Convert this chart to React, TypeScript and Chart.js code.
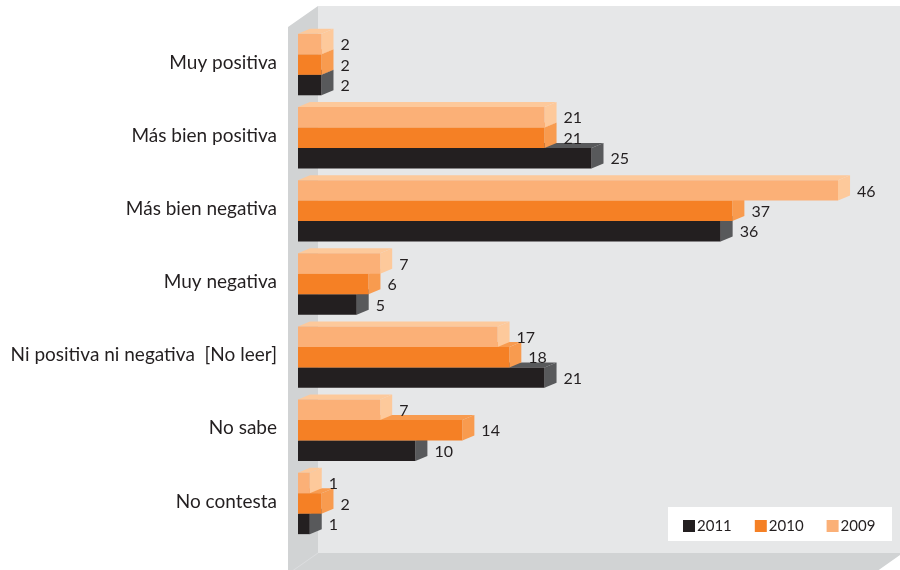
import React, { useEffect, useRef } from 'react';
import { Chart, registerables } from 'chart.js';

Chart.register(...registerables);

const categories = [
  'Muy positiva',
  'Más bien positiva',
  'Más bien negativa',
  'Muy negativa',
  'Ni positiva ni negativa  [No leer]',
  'No sabe',
  'No contesta',
];
const seriesLabels = ['2009', '2010', '2011'];
const values2009 = [2, 21, 46, 7, 17, 7, 1];
const values2010 = [2, 21, 37, 6, 18, 14, 2];
const values2011 = [2, 25, 36, 5, 21, 10, 1];
const xMax = 50;

const frontColors = ['#fbb077', '#f58025', '#231f20'];
const sideColors = ['#fdc99b', '#f89b4f', '#58595b'];
const topColors = ['#fdc99b', '#f89b4f', '#58595b'];

const FONT = 'Lato, "Open Sans", sans-serif';
const TEXT = '#231f20';
const DX = 12;
const DY = 5;

function poly(ctx: CanvasRenderingContext2D, pts: number[][]) {
  ctx.beginPath();
  ctx.moveTo(pts[0][0], pts[0][1]);
  for (let i = 1; i < pts.length; i++) ctx.lineTo(pts[i][0], pts[i][1]);
  ctx.closePath();
  ctx.fill();
}

const threeD = {
  id: 'threeD',
  beforeDraw(chart: any) {
    const ctx: CanvasRenderingContext2D = chart.ctx;
    const { left, top, bottom } = chart.chartArea;
    const W = chart.width;
    const H = chart.height;
    const sideX = left - 10;
    const backX = left + 20;
    const wallTop = top - 22;
    const sideTop = top - 1;
    const floorY = bottom + 13;
    ctx.save();
    ctx.fillStyle = '#ffffff';
    ctx.fillRect(0, 0, W, H);
    ctx.fillStyle = '#d1d3d4';
    poly(ctx, [
      [sideX, sideTop],
      [backX, wallTop],
      [backX, floorY],
      [W + 3, floorY],
      [W - 27, floorY + 21],
      [sideX, floorY + 21],
    ]);
    ctx.fillStyle = '#e6e7e8';
    ctx.fillRect(backX, wallTop, W - backX, floorY - wallTop);
    ctx.strokeStyle = '#dcdddf';
    ctx.lineWidth = 1;
    ctx.beginPath();
    ctx.moveTo(backX, floorY);
    ctx.lineTo(backX - 30, floorY + 21);
    ctx.stroke();
    ctx.restore();
  },
  beforeDatasetDraw(chart: any, args: any) {
    const ctx: CanvasRenderingContext2D = chart.ctx;
    const i = args.index;
    ctx.save();
    args.meta.data.forEach((bar: any) => {
      const { x, y, base, height } = bar.getProps(['x', 'y', 'base', 'height'], true);
      const t = y - height / 2;
      const b = y + height / 2;
      ctx.fillStyle = topColors[i];
      poly(ctx, [
        [base, t],
        [x, t],
        [x + DX, t - DY],
        [base + DX, t - DY],
      ]);
      ctx.fillStyle = sideColors[i];
      poly(ctx, [
        [x, t],
        [x + DX, t - DY],
        [x + DX, b - DY],
        [x, b],
      ]);
    });
    ctx.restore();
  },
  afterDatasetsDraw(chart: any) {
    const ctx: CanvasRenderingContext2D = chart.ctx;
    ctx.save();
    ctx.font = `16px ${FONT}`;
    ctx.fillStyle = TEXT;
    ctx.textAlign = 'left';
    ctx.textBaseline = 'middle';
    chart.data.datasets.forEach((ds: any, di: number) => {
      const meta = chart.getDatasetMeta(di);
      meta.data.forEach((bar: any, j: number) => {
        const { x, y } = bar.getProps(['x', 'y'], true);
        ctx.fillText(String(ds.data[j]), x + DX + 7, y + 1);
      });
    });
    ctx.restore();
  },
  afterDraw(chart: any) {
    const ctx: CanvasRenderingContext2D = chart.ctx;
    const { right, bottom } = chart.chartArea;
    const boxR = right + 7;
    const boxB = bottom + 1;
    const boxW = 224;
    const boxH = 34;
    const boxL = boxR - boxW;
    const boxT = boxB - boxH;
    ctx.save();
    ctx.fillStyle = '#ffffff';
    ctx.fillRect(boxL, boxT, boxW, boxH);
    ctx.font = `15px ${FONT}`;
    ctx.textBaseline = 'middle';
    ctx.textAlign = 'left';
    const cy = boxT + boxH / 2 + 2;
    let x = boxL + 15;
    const order = [2, 1, 0];
    order.forEach((di) => {
      ctx.fillStyle = frontColors[di];
      ctx.fillRect(x, cy - 6, 12, 12);
      ctx.fillStyle = TEXT;
      const label = chart.data.datasets[di].label;
      ctx.fillText(label, x + 14, cy);
      x += 14 + ctx.measureText(label).width + 23;
    });
    ctx.restore();
  },
};

export default function App() {
  const ref = useRef<HTMLCanvasElement | null>(null);
  useEffect(() => {
    document.body.style.margin = '0';
    const canvas = ref.current;
    if (!canvas) return;
    const chart = new Chart(canvas, {
      type: 'bar',
      data: {
        labels: categories,
        datasets: [
          { label: seriesLabels[0], data: values2009, backgroundColor: frontColors[0] },
          { label: seriesLabels[1], data: values2010, backgroundColor: frontColors[1] },
          { label: seriesLabels[2], data: values2011, backgroundColor: frontColors[2] },
        ],
      },
      options: {
        indexAxis: 'y',
        responsive: false,
        animation: false,
        events: [],
        layout: { padding: { top: 28, bottom: 30, left: 0, right: 15 } },
        datasets: {
          bar: {
            categoryPercentage: 0.84,
            barPercentage: 1,
            borderWidth: 0,
            clip: false,
          },
        },
        scales: {
          x: {
            display: false,
            min: 0,
            max: xMax,
          },
          y: {
            border: { display: false },
            grid: { display: false, drawTicks: true, tickLength: 20 },
            afterFit: (scale: any) => {
              scale.width = 298;
            },
            ticks: {
              padding: 1,
              labelOffset: -2,
              color: TEXT,
              font: { family: FONT, size: 19 },
            },
          },
        },
        plugins: {
          legend: { display: false },
          tooltip: { enabled: false },
          title: { display: false },
        },
      } as any,
      plugins: [threeD as any],
    });
    const fonts: any = (document as any).fonts;
    if (fonts && fonts.load) {
      Promise.all([
        fonts.load('19px Lato'),
        fonts.load('16px Lato'),
        fonts.load('15px Lato'),
      ])
        .then(() => chart.update())
        .catch(() => {});
    }
    return () => chart.destroy();
  }, []);
  return (
    <div style={{ width: 900, height: 570 }}>
      <canvas ref={ref} width={900} height={570} style={{ display: 'block', width: 900, height: 570 }} />
    </div>
  );
}
